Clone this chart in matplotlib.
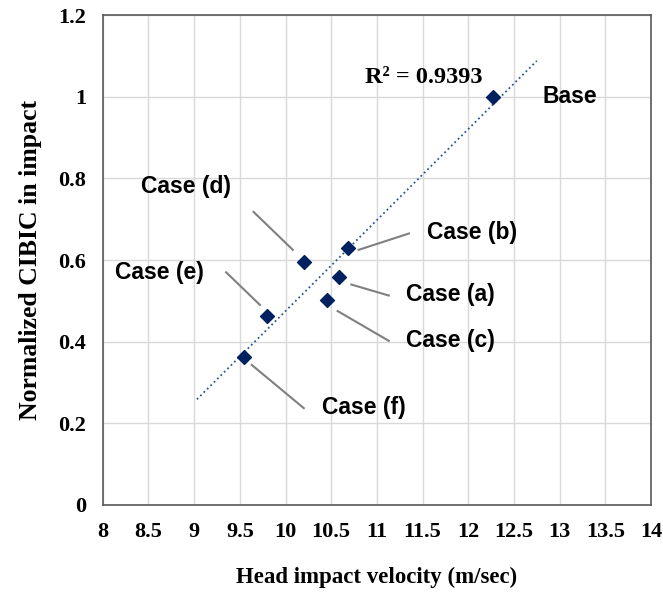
import numpy as np
import matplotlib
matplotlib.use("Agg")
import matplotlib.pyplot as plt

# data
cases = ["Base", "Case (b)", "Case (d)", "Case (a)", "Case (c)", "Case (e)", "Case (f)"]
velocity = [12.27, 10.68, 10.20, 10.58, 10.45, 9.80, 9.55]
cibic = [1.00, 0.63, 0.596, 0.559, 0.502, 0.463, 0.362]
r2_text = "R\u00b2 = 0.9393"

# label text position (data coords) and leader line (start, end) in data coords
label_pos = {
    "Base": (12.81, 1.0),
    "Case (b)": (11.55, 0.667),
    "Case (d)": (8.42, 0.78),
    "Case (e)": (8.13, 0.569),
    "Case (a)": (11.32, 0.515),
    "Case (c)": (11.32, 0.404),
    "Case (f)": (10.40, 0.238),
}
leaders = {
    "Case (b)": ((10.80, 0.625), (11.35, 0.665)),
    "Case (d)": ((9.65, 0.718), (10.08, 0.625)),
    "Case (e)": ((9.35, 0.57), (9.72, 0.49)),
    "Case (a)": ((10.72, 0.54), (11.13, 0.513)),
    "Case (c)": ((10.57, 0.475), (11.13, 0.402)),
    "Case (f)": ((9.63, 0.343), (10.20, 0.237)),
}

plt.rcParams["font.family"] = "Liberation Serif"

fig = plt.figure(figsize=(6.63, 6.09), dpi=100)
ax = fig.add_axes([0.155, 0.171, 0.827, 0.804])

# linear trend line
slope, icpt = np.polyfit(velocity, cibic, 1)
xt = np.array([9.03, 12.75])
ax.plot(xt, slope * xt + icpt, ":", color="#2f5597", lw=1.3, zorder=2)

ax.scatter(velocity, cibic, marker="D", s=50, color="#002060", zorder=3)

for name in cases:
    tx, ty = label_pos[name]
    ax.text(tx, ty, name, family="Liberation Sans", fontweight="bold",
            fontsize=16.5, ha="left", va="center", zorder=4)
    if name in leaders:
        (x0, y0), (x1, y1) = leaders[name]
        ax.plot([x0, x1], [y0, y1], color="#808080", lw=1.5, zorder=2)

ax.text(12.15, 1.047, r2_text, fontweight="bold", fontsize=17.5,
        ha="right", va="center")

ax.set_xlim(8, 14)
ax.set_ylim(0, 1.2)
ax.set_xticks(np.arange(8, 14.01, 0.5))
ax.set_xticklabels(["8", "8.5", "9", "9.5", "10", "10.5", "11", "11.5",
                    "12", "12.5", "13", "13.5", "14"])
ax.set_yticks(np.arange(0, 1.21, 0.2))
ax.set_yticklabels(["0", "0.2", "0.4", "0.6", "0.8", "1", "1.2"])
ax.grid(True, color="#d9d9d9", lw=1)
ax.set_axisbelow(True)
ax.tick_params(length=0, labelsize=16)
ax.tick_params(axis="x", pad=12)
ax.tick_params(axis="y", pad=12)
for lab in ax.get_xticklabels() + ax.get_yticklabels():
    lab.set_fontweight("bold")
for sp in ax.spines.values():
    sp.set_color("#595959")
    sp.set_linewidth(1.2)

ax.set_xlabel("Head impact velocity (m/sec)", fontsize=16.5, fontweight="bold",
              labelpad=18)
ax.set_ylabel("Normalized CIBIC in impact", fontsize=18.5, fontweight="bold",
              labelpad=12)

fig.savefig("out.png", dpi=100)
